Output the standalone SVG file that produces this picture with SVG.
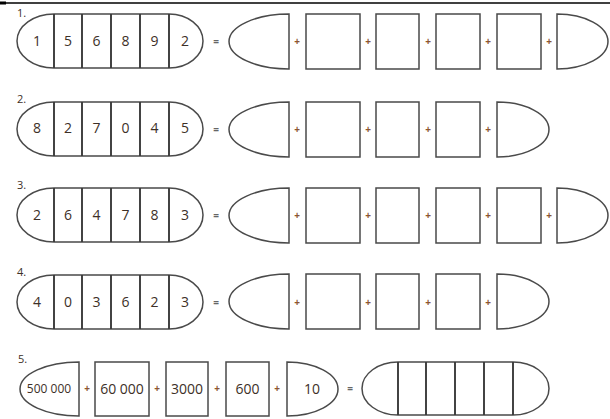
<svg xmlns="http://www.w3.org/2000/svg" width="610" height="419" viewBox="0 0 610 419">
<style>
.o{fill:#fff;stroke:#4a4a4a;stroke-width:1.5}
.d{stroke:#3a3a3a;stroke-width:1.9;fill:none}
.n{font-family:"Open Sans","Noto Sans",sans-serif;font-size:14px;fill:#3d3027;text-anchor:middle}
.s{font-family:"Open Sans","Noto Sans",sans-serif;font-size:12px;fill:#3d3027;text-anchor:middle}
.l{font-family:"Open Sans","Noto Sans",sans-serif;font-size:11px;fill:#3d3027}
.p{font-family:"Open Sans","Noto Sans",sans-serif;font-size:10px;font-weight:bold;fill:#8c5530;text-anchor:middle}
.e{font-family:"Open Sans","Noto Sans",sans-serif;font-size:10px;font-weight:bold;fill:#666;text-anchor:middle}
</style>
<defs>
<g id="cap">
<path class="o" d="M54,0 L169,0 A34,27 0 0 1 169,54 L54,54 A37,27 0 0 1 54,0 Z"/>
<path class="d" d="M54,0V54M82,0V54M111,0V54M140,0V54M169,0V54"/>
</g>
<g id="ld"><path class="o" d="M289,0 A60,27.5 0 0 0 289,55 Z"/></g>
<path id="bx1" class="o" d="M306,0H360V55H306Z"/>
<path id="bx2" class="o" d="M376,0H419V55H376Z"/>
<path id="bx3" class="o" d="M436,0H480V55H436Z"/>
<path id="bx4" class="o" d="M497,0H541V55H497Z"/>
<path id="rdA" class="o" d="M557,0 A51,27.5 0 0 1 557,55 Z"/>
<path id="rdB" class="o" d="M497,0 A52,27.5 0 0 1 497,55 Z"/>
</defs>
<line x1="0" y1="3" x2="610" y2="3" stroke="#000" stroke-width="1.5"/>
<rect x="0" y="1.5" width="6" height="3" fill="#000"/>

<g id="row1">
<text class="l" x="17" y="17">1.</text>
<use href="#cap" transform="translate(0,14)"/>
<text class="n" x="37" y="46">1</text><text class="n" x="68" y="46">5</text><text class="n" x="96.5" y="46">6</text><text class="n" x="125.5" y="46">8</text><text class="n" x="154.5" y="46">9</text><text class="n" x="185" y="46">2</text>
<text class="e" x="216" y="45">=</text>
<use href="#ld" transform="translate(0,14)"/><use href="#bx1" transform="translate(0,14)"/><use href="#bx2" transform="translate(0,14)"/><use href="#bx3" transform="translate(0,14)"/><use href="#bx4" transform="translate(0,14)"/><use href="#rdA" transform="translate(0,14)"/>
<text class="p" x="297" y="45">+</text><text class="p" x="368" y="45">+</text><text class="p" x="428" y="45">+</text><text class="p" x="488" y="45">+</text><text class="p" x="549" y="45">+</text>
</g>

<g id="row2">
<text class="l" x="17" y="103">2.</text>
<use href="#cap" transform="translate(0,102)"/>
<text class="n" x="37" y="133">8</text><text class="n" x="68" y="133">2</text><text class="n" x="96.5" y="133">7</text><text class="n" x="125.5" y="133">0</text><text class="n" x="154.5" y="133">4</text><text class="n" x="185" y="133">5</text>
<text class="e" x="216" y="133">=</text>
<use href="#ld" transform="translate(0,102)"/><use href="#bx1" transform="translate(0,102)"/><use href="#bx2" transform="translate(0,102)"/><use href="#bx3" transform="translate(0,102)"/><use href="#rdB" transform="translate(0,102)"/>
<text class="p" x="297" y="133">+</text><text class="p" x="368" y="133">+</text><text class="p" x="428" y="133">+</text><text class="p" x="488" y="133">+</text>
</g>

<g id="row3">
<text class="l" x="17" y="189">3.</text>
<use href="#cap" transform="translate(0,188)"/>
<text class="n" x="37" y="220">2</text><text class="n" x="68" y="220">6</text><text class="n" x="96.5" y="220">4</text><text class="n" x="125.5" y="220">7</text><text class="n" x="154.5" y="220">8</text><text class="n" x="185" y="220">3</text>
<text class="e" x="216" y="219">=</text>
<use href="#ld" transform="translate(0,188)"/><use href="#bx1" transform="translate(0,188)"/><use href="#bx2" transform="translate(0,188)"/><use href="#bx3" transform="translate(0,188)"/><use href="#bx4" transform="translate(0,188)"/><use href="#rdA" transform="translate(0,188)"/>
<text class="p" x="297" y="219">+</text><text class="p" x="368" y="219">+</text><text class="p" x="428" y="219">+</text><text class="p" x="488" y="219">+</text><text class="p" x="549" y="219">+</text>
</g>

<g id="row4">
<text class="l" x="17" y="276">4.</text>
<use href="#cap" transform="translate(0,275)"/>
<text class="n" x="37" y="307">4</text><text class="n" x="68" y="307">0</text><text class="n" x="96.5" y="307">3</text><text class="n" x="125.5" y="307">6</text><text class="n" x="154.5" y="307">2</text><text class="n" x="185" y="307">3</text>
<text class="e" x="216" y="306">=</text>
<use href="#ld" transform="translate(0,274)"/><use href="#bx1" transform="translate(0,274)"/><use href="#bx2" transform="translate(0,274)"/><use href="#bx3" transform="translate(0,274)"/><use href="#rdB" transform="translate(0,274)"/>
<text class="p" x="297" y="306">+</text><text class="p" x="368" y="306">+</text><text class="p" x="428" y="306">+</text><text class="p" x="488" y="306">+</text>
</g>

<g id="row5">
<text class="l" x="18" y="363">5.</text>
<path class="o" d="M79,362 A59,27 0 0 0 79,416 Z"/>
<text class="s" x="49" y="393">500 000</text>
<text class="p" x="87" y="392">+</text>
<rect class="o" x="95" y="362" width="54" height="54"/>
<text class="n" x="122" y="394">60 000</text>
<text class="p" x="157" y="392">+</text>
<rect class="o" x="166" y="362" width="42" height="54"/>
<text class="n" x="187" y="394">3000</text>
<text class="p" x="217" y="392">+</text>
<rect class="o" x="226" y="362" width="43" height="54"/>
<text class="n" x="247.5" y="394">600</text>
<text class="p" x="277" y="392">+</text>
<path class="o" d="M287,362 A51,27 0 0 1 287,416 Z"/>
<text class="n" x="312" y="394">10</text>
<text class="e" x="350" y="392">=</text>
<path class="o" d="M398,362 L513,362 A36,26.5 0 0 1 513,415 L398,415 A36,26.5 0 0 1 398,362 Z"/>
<path class="d" d="M398,362V415M426,362V415M455,362V415M484,362V415M513,362V415"/>
</g>
</svg>
